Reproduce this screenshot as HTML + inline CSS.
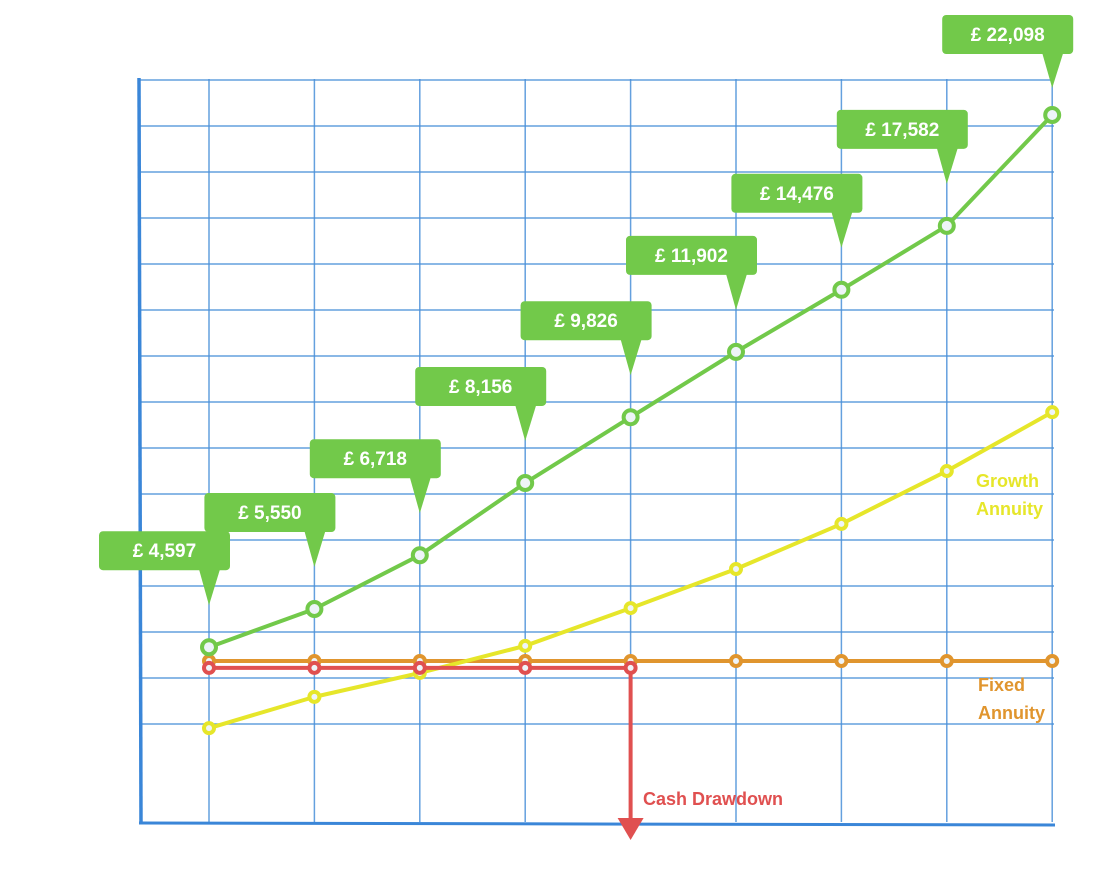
<!DOCTYPE html>
<html><head><meta charset="utf-8"><style>
html,body{margin:0;padding:0;background:#fff;}
svg{display:block;font-family:"Liberation Sans",sans-serif;}
</style></head><body>
<svg id="chart" width="1106" height="882" viewBox="0 0 1106 882" xmlns="http://www.w3.org/2000/svg"></svg>
<script>
const years = [1,2,3,4,5,6,7,8,9];
const growthDrawdown = [3.80,4.63,5.80,7.37,8.80,10.22,11.57,12.96,15.37];
const growthLabels = ["£ 4,597","£ 5,550","£ 6,718","£ 8,156","£ 9,826","£ 11,902","£ 14,476","£ 17,582","£ 22,098"];
const growthAnnuity = [2.04,2.72,3.24,3.83,4.65,5.50,6.48,7.63,8.91];
const fixedAnnuity = [3.50,3.50,3.50,3.50,3.50,3.50,3.50,3.50,3.50];
const cashDrawdown = [3.35,3.35,3.35,3.35,3.35];
const yTicks = [2.13,3.13,4.13,5.13,6.13,7.13,8.13,9.13,10.13,11.13,12.13,13.13,14.13,15.13,16.13];

const NS="http://www.w3.org/2000/svg";
const svg=document.getElementById('chart');
const X0=209, XS=105.4, Y0=822, YS=46;
const xp=i=>X0+(i-1)*XS;
const yp=v=>Y0-v*YS;
function el(tag,attrs,parent){const e=document.createElementNS(NS,tag);for(const k in attrs)e.setAttribute(k,attrs[k]);(parent||svg).appendChild(e);return e;}

const grid=el('g',{});


yTicks.forEach(t=>{const l=el('line',{x1:140,x2:1054,y1:yp(t),y2:yp(t),stroke:'#4a90d9','stroke-width':1.5,opacity:0.85},grid);

});
years.forEach(y=>{const l=el('line',{x1:xp(y),x2:xp(y),y1:79,y2:822,stroke:'#4a90d9','stroke-width':1.5,opacity:0.85},grid);

});
const ya=el('line',{x1:139,x2:141,y1:78,y2:824,stroke:'#3a86d8','stroke-width':3.5});


const xa=el('line',{x1:139,x2:1055,y1:823,y2:825,stroke:'#3a86d8','stroke-width':3});



function series(vals,color,w,r,name){
  const g=el('g',{});
  
  
  const pts=vals.map((v,i)=>xp(years[i])+','+yp(v)).join(' ');
  const pl=el('polyline',{points:pts,fill:'none',stroke:color,'stroke-width':w,'stroke-linejoin':'round'},g);
  
  
  vals.forEach((v,i)=>{const c=el('circle',{cx:xp(years[i]),cy:yp(v),r:r,fill:'#eef4f8',stroke:color,'stroke-width':w},g);
  
  });
  return g;
}
series(fixedAnnuity,'#e0952e',4,5,'fixed-annuity');
series(growthAnnuity,'#e6e62a',4,5,'growth-annuity');
const lastX=xp(cashDrawdown.length);
const drop=el('line',{x1:lastX,x2:lastX,y1:yp(cashDrawdown[cashDrawdown.length-1]),y2:822,stroke:'#e05050','stroke-width':4});


const arr=el('polygon',{points:`${lastX-13},818 ${lastX+13},818 ${lastX},840`,fill:'#e05050'});


series(cashDrawdown,'#e05050',4,5,'cash-drawdown');
series(growthDrawdown,'#72c94a',4,7,'growth-drawdown');

growthDrawdown.forEach((v,i)=>{
  const px=xp(years[i]), py=yp(v);
  const bb=Math.max(py-77,54), tip=Math.min(bb+35,py-27), bl=px-110;
  const g=el('g',{});
  
  
  el('rect',{x:bl,y:bb-39,width:131,height:39,rx:4,fill:'#72c94a'},g);
  el('polygon',{points:`${px-10},${bb-1} ${px+11},${bb-1} ${px},${tip}`,fill:'#72c94a'},g);
  const t=el('text',{x:bl+65.5,y:bb-13,'text-anchor':'middle',fill:'#fff','font-size':19,'font-weight':'bold'},g);
  t.textContent=growthLabels[i];
});

function label(lines,x,y,color,name){
  const t=el('text',{x:x,y:y,fill:color,'font-size':18,'font-weight':'bold'});
  
  
  lines.forEach((s,k)=>{const ts=el('tspan',{x:x,dy:k?28:0},t);ts.textContent=s;});
}
label(['Growth','Annuity'],976,487,'#e6e62a','growth-annuity-label');
label(['Fixed','Annuity'],978,691,'#e0952e','fixed-annuity-label');
label(['Cash Drawdown'],643,805,'#e05050','cash-drawdown-label');
</script>
</body></html>
